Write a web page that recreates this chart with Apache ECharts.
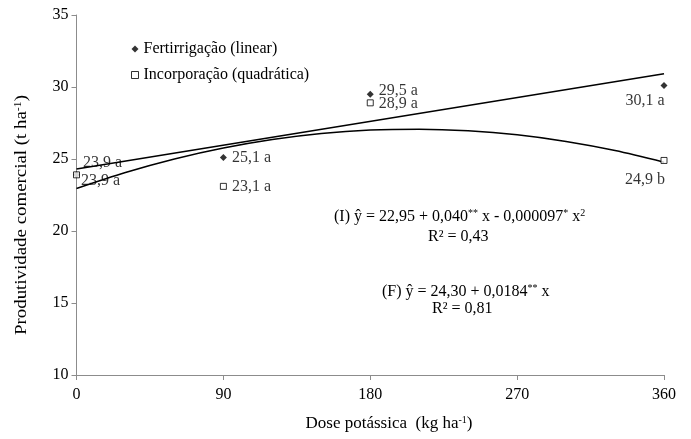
<!DOCTYPE html>
<html><head><meta charset="utf-8">
<script src="https://cdn.jsdelivr.net/npm/echarts@6/dist/echarts.min.js"></script>
<style>html,body{margin:0;padding:0;background:#fff}#c{width:691px;height:439px}</style>
</head><body><div id="c"></div>
<script>
var doses = [0, 90, 180, 360];
var fertValues = [23.9, 25.1, 29.5, 30.1];
var fertLabels = ['23,9 a', '25,1 a', '29,5 a', '30,1 a'];
var incValues = [23.9, 23.1, 28.9, 24.9];
var incLabels = ['23,9 a', '23,1 a', '28,9 a', '24,9 b'];
var fertTrendX = [0, 360];
var fertTrendY = [24.30, 30.92];
var incTrendX = [0, 30, 60, 90, 120, 150, 180, 210, 240, 270, 300, 330, 360];
var incTrendY = [22.95, 24.06, 25.00, 25.76, 26.35, 26.77, 27.01, 27.07, 26.96, 26.68, 26.22, 25.59, 24.78];
var xTicks = [0, 90, 180, 270, 360];
var yTicks = [10, 15, 20, 25, 30, 35];

var FONT = '"Liberation Serif", "Times New Roman", serif';
var FS = 16;
var fertLabelLayout = [
  {position: 'right', offset: [-1, -12]},
  {position: 'right', offset: [1, 0]},
  {position: 'right', offset: [1, -3]},
  {position: 'bottom', offset: [-19, 0]}
];
var incLabelLayout = [
  {position: 'right', offset: [-3, 6]},
  {position: 'right', offset: [1, 0]},
  {position: 'right', offset: [1, 1]},
  {position: 'bottom', offset: [-19, 4]}
];
var supRich = {s: {fontSize: 10, verticalAlign: 'top', padding: [0, 0, 7, 0], fontFamily: FONT, color: '#000', fill: '#000'}};
function pts(xs, ys, labels, layout) {
  return xs.map(function (x, i) {
    var o = {value: [x, ys[i]]};
    if (labels) {
      o.label = {show: true, formatter: labels[i], position: layout[i].position, offset: layout[i].offset,
        color: '#000', fontFamily: FONT, fontSize: FS, distance: 4};
    }
    return o;
  });
}
var chart = echarts.init(document.getElementById('c'));
chart.setOption({
  animation: false,
  grid: {left: 76.5, right: 27, top: 15, bottom: 64},
  legend: {
    orient: 'vertical', left: 126, top: 36, itemGap: 10,
    data: [
      {name: 'Fertirrigação (linear)', icon: 'diamond', itemStyle: {color: '#000', borderWidth: 0}},
      {name: 'Incorporação (quadrática)', icon: 'rect', itemStyle: {color: '#fff', borderColor: '#000', borderWidth: 1}}
    ],
    itemWidth: 7, itemHeight: 7,
    textStyle: {fontFamily: FONT, fontSize: FS, color: '#000'}
  },
  xAxis: {
    type: 'value', min: xTicks[0], max: xTicks[xTicks.length - 1], interval: 90,
    axisLine: {lineStyle: {color: '#8c8c8c', width: 1}},
    axisTick: {show: true, length: 5, lineStyle: {color: '#8c8c8c'}},
    axisLabel: {fontFamily: FONT, fontSize: FS, color: '#000', margin: 12},
    splitLine: {show: false}
  },
  yAxis: {
    type: 'value', min: yTicks[0], max: yTicks[yTicks.length - 1], interval: 5,
    axisLine: {show: true, lineStyle: {color: '#8c8c8c', width: 1}},
    axisTick: {show: true, length: 5, lineStyle: {color: '#8c8c8c'}},
    axisLabel: {fontFamily: FONT, fontSize: FS, color: '#000', margin: 8},
    splitLine: {show: false}
  },
  series: [
    {type: 'line', data: pts(fertTrendX, fertTrendY), showSymbol: false, lineStyle: {color: '#000', width: 1.5}, silent: true, z: 1},
    {type: 'line', data: pts(incTrendX, incTrendY), smooth: 0.3, showSymbol: false, lineStyle: {color: '#000', width: 1.5}, silent: true, z: 1},
    {name: 'Fertirrigação (linear)', type: 'scatter', symbol: 'diamond', symbolSize: 7,
      itemStyle: {color: '#000'}, data: pts(doses, fertValues, fertLabels, fertLabelLayout), z: 3},
    {name: 'Incorporação (quadrática)', type: 'scatter', symbol: 'rect', symbolSize: 6,
      itemStyle: {color: '#fff', borderColor: '#000', borderWidth: 1}, data: pts(doses, incValues, incLabels, incLabelLayout), z: 4}
  ],
  graphic: [
    {type: 'text', x: 22, y: 215, rotation: Math.PI / 2, scaleX: 1.18, style: {
      text: 'Produtividade comercial (t ha{s|-1})', fontFamily: FONT, fontSize: 16, fill: '#000',
      align: 'center', verticalAlign: 'middle', rich: supRich}},
    {type: 'text', x: 389, y: 424, style: {
      text: 'Dose potássica  (kg ha{s|-1})', fontFamily: FONT, fontSize: 17, fill: '#000',
      align: 'center', verticalAlign: 'middle', rich: supRich}},
    {type: 'text', left: 334, top: 208, style: {
      text: '(I) ŷ = 22,95 + 0,040{s|**} x - 0,000097{s|*} x{s|2}', fontFamily: FONT, fontSize: FS, fill: '#000',
      rich: supRich}},
    {type: 'text', left: 428, top: 229, style: {text: 'R² = 0,43', fontFamily: FONT, fontSize: FS, fill: '#000'}},
    {type: 'text', left: 382, top: 283, style: {
      text: '(F) ŷ = 24,30 + 0,0184{s|**} x', fontFamily: FONT, fontSize: FS, fill: '#000',
      rich: supRich}},
    {type: 'text', left: 432, top: 301, style: {text: 'R² = 0,81', fontFamily: FONT, fontSize: FS, fill: '#000'}}
  ]
});
</script></body></html>
